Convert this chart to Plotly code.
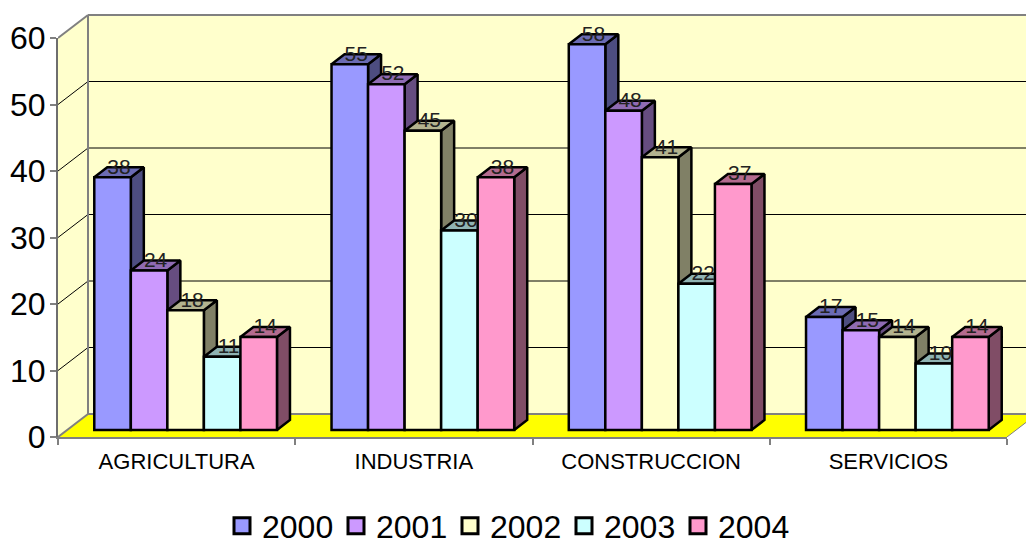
import plotly.graph_objects as go

categories = ["AGRICULTURA", "INDUSTRIA", "CONSTRUCCION", "SERVICIOS"]
years = ["2000", "2001", "2002", "2003", "2004"]
v2000 = [38, 55, 58, 17]
v2001 = [24, 52, 48, 15]
v2002 = [18, 45, 41, 14]
v2003 = [11, 30, 22, 10]
v2004 = [14, 38, 37, 14]
series = [v2000, v2001, v2002, v2003, v2004]
colors = ["#9999FF", "#CC99FF", "#FFFFCC", "#CCFFFF", "#FF99CC"]
tops = ["#6B6BB3", "#8F6BB3", "#B3B38F", "#8FB3B3", "#B36B8F"]
sides = ["#4D4D80", "#664D80", "#808066", "#668080", "#804D66"]
y_ticks = [0, 10, 20, 30, 40, 50, 60]

W, H = 1026, 540
L, T, R, B = 58, 10, 0, 103
PW, PH = W - L - R, H - T - B
PX = 949 / 4          # px per category
PY = 6.65             # px per value unit
xmax = PW / PX
ymax = PH / PY
wall_dx, wall_dy = 30 / PX, 23 / PY
base_dx, base_dy = 9 / PX, 7 / PY
bar_dx, bar_dy = 13 / PX, 10 / PY
GAP = 0.23
BW = (1 - GAP) / 5
FONT = "Liberation Sans, Arial, sans-serif"
EDGE = 2.5

fig = go.Figure()

# side and top faces, behind all fronts
for i, (vals, top, side) in enumerate(zip(series, tops, sides)):
    sx, sy, tx, ty = [], [], [], []
    for c, v in enumerate(vals):
        x0 = c + 0.5 + (i - 2.5) * BW
        x1 = x0 + BW
        sx += [x1, x1 + bar_dx, x1 + bar_dx, x1, x1, None]
        sy += [0, bar_dy, v + bar_dy, v, 0, None]
        tx += [x0, x0 + bar_dx, x1 + bar_dx, x1, x0, None]
        ty += [v, v + bar_dy, v + bar_dy, v, v, None]
    for xs, ys, col in ((sx, sy, side), (tx, ty, top)):
        fig.add_trace(go.Scatter(x=xs, y=ys, mode="lines", fill="toself", fillcolor=col,
                                 line=dict(color="black", width=EDGE), showlegend=False,
                                 hoverinfo="skip", xaxis="x2", yaxis="y2"))

# fronts
for i, (vals, col, name) in enumerate(zip(series, colors, years)):
    fig.add_trace(go.Bar(x=[c + 0.5 for c in range(len(categories))], y=vals, name=name,
                         marker=dict(color=col, line=dict(color="black", width=EDGE)),
                         showlegend=False, xaxis="x3", yaxis="y3"))

# data labels
for i, vals in enumerate(series):
    xs = [c + 0.5 + (i - 2) * BW + 6.5 / PX for c in range(len(categories))]
    ys = [v + 9 / PY for v in vals]
    fig.add_trace(go.Scatter(x=xs, y=ys, mode="text", text=[str(v) for v in vals],
                             textposition="middle center",
                             textfont=dict(family=FONT, size=21, color="#222222"),
                             showlegend=False, hoverinfo="skip", xaxis="x3", yaxis="y3"))

# legend entries
for col, name in zip(colors, years):
    fig.add_trace(go.Scatter(x=[None], y=[None], mode="markers", name=name,
                             marker=dict(symbol="square", size=16, color=col,
                                         line=dict(color="black", width=3)),
                             xaxis="x4", yaxis="y4"))

GREY = "#808080"
shapes = [
    dict(type="rect", xref="x", yref="y", x0=wall_dx, x1=xmax, y0=wall_dy, y1=60 + wall_dy,
         fillcolor="#FFFFCC", line=dict(width=0), layer="below"),
    dict(type="path", xref="x", yref="y",
         path=f"M0,0 L{wall_dx},{wall_dy} L{wall_dx},{60 + wall_dy} L0,60 Z",
         fillcolor="#FFFFCC", line=dict(width=0), layer="below"),
    dict(type="path", xref="x", yref="y",
         path=f"M0,0 L{wall_dx},{wall_dy} L{xmax + 1},{wall_dy} L{4 + wall_dx},{wall_dy} L4,0 Z",
         fillcolor="#FFFF00", line=dict(width=0), layer="below"),
]
for t in y_ticks:
    col = GREY if t in (0, 60) else "black"
    w = 2 if t in (0, 60) else 1
    shapes.append(dict(type="line", xref="x", yref="y", x0=0, x1=wall_dx, y0=t, y1=t + wall_dy,
                       line=dict(color=col, width=w), layer="below"))
    shapes.append(dict(type="line", xref="x", yref="y", x0=wall_dx, x1=xmax, y0=t + wall_dy,
                       y1=t + wall_dy, line=dict(color=col, width=w), layer="below"))
shapes.append(dict(type="line", xref="x", yref="y", x0=wall_dx, x1=wall_dx, y0=wall_dy,
                   y1=60 + wall_dy, line=dict(color=GREY, width=2), layer="below"))
shapes.append(dict(type="line", xref="x", yref="y", x0=4, x1=4 + wall_dx, y0=0, y1=wall_dy,
                   line=dict(color=GREY, width=1), layer="below"))

hidden = dict(visible=False, showgrid=False, zeroline=False, fixedrange=True)
fig.update_layout(
    width=W, height=H, margin=dict(l=L, r=R, t=T, b=B, pad=0, autoexpand=False),
    paper_bgcolor="white", plot_bgcolor="rgba(0,0,0,0)",
    barmode="group", bargap=GAP, bargroupgap=0,
    shapes=shapes,
    showlegend=True,
    legend=dict(orientation="h", x=(507 - L) / PW, xanchor="center", y=-89 / PH, yanchor="middle",
                font=dict(family=FONT, size=32, color="black"), bgcolor="rgba(0,0,0,0)",
                itemwidth=30, entrywidth=69, entrywidthmode="pixels", tracegroupgap=0),
    xaxis=dict(range=[0, xmax], **hidden),
    yaxis=dict(range=[0, ymax], **hidden),
    xaxis2=dict(range=[-base_dx, xmax - base_dx], overlaying="x", anchor="y2", **hidden),
    yaxis2=dict(range=[-base_dy, ymax - base_dy], overlaying="y", anchor="x2", **hidden),
    xaxis3=dict(range=[-base_dx, xmax - base_dx], overlaying="x", anchor="y3", **hidden),
    yaxis3=dict(range=[-base_dy, ymax - base_dy], overlaying="y", anchor="x3", **hidden),
    xaxis4=dict(domain=[0, 949 / PW], range=[0, 4], anchor="y4", showgrid=False, zeroline=False,
                showline=True, linecolor=GREY, linewidth=2,
                tickmode="array", tickvals=[c + 0.5 for c in range(len(categories))],
                ticktext=categories, ticks="", ticklen=0,
                tickfont=dict(family=FONT, size=22, color="black"),
                minor=dict(tickmode="array", tickvals=[0, 1, 2, 3, 4], ticks="outside", ticklen=6,
                           tickcolor=GREY, tickwidth=2, showgrid=False),
                ticklabelstandoff=4, fixedrange=True),
    yaxis4=dict(domain=[0, 399 / PH], range=[0, 60], anchor="x4", showgrid=False, zeroline=False,
                showline=True, linecolor="#6E6E6E", linewidth=2,
                tickmode="array", tickvals=y_ticks, ticks="outside", ticklen=6,
                tickcolor=GREY, tickwidth=2,
                tickfont=dict(family=FONT, size=32, color="black"),
                ticklabelstandoff=-2, fixedrange=True),
)

fig.write_html("out.html", config={"displayModeBar": False},
               post_script="document.body.style.margin='0';document.documentElement.style.overflow='hidden';")
